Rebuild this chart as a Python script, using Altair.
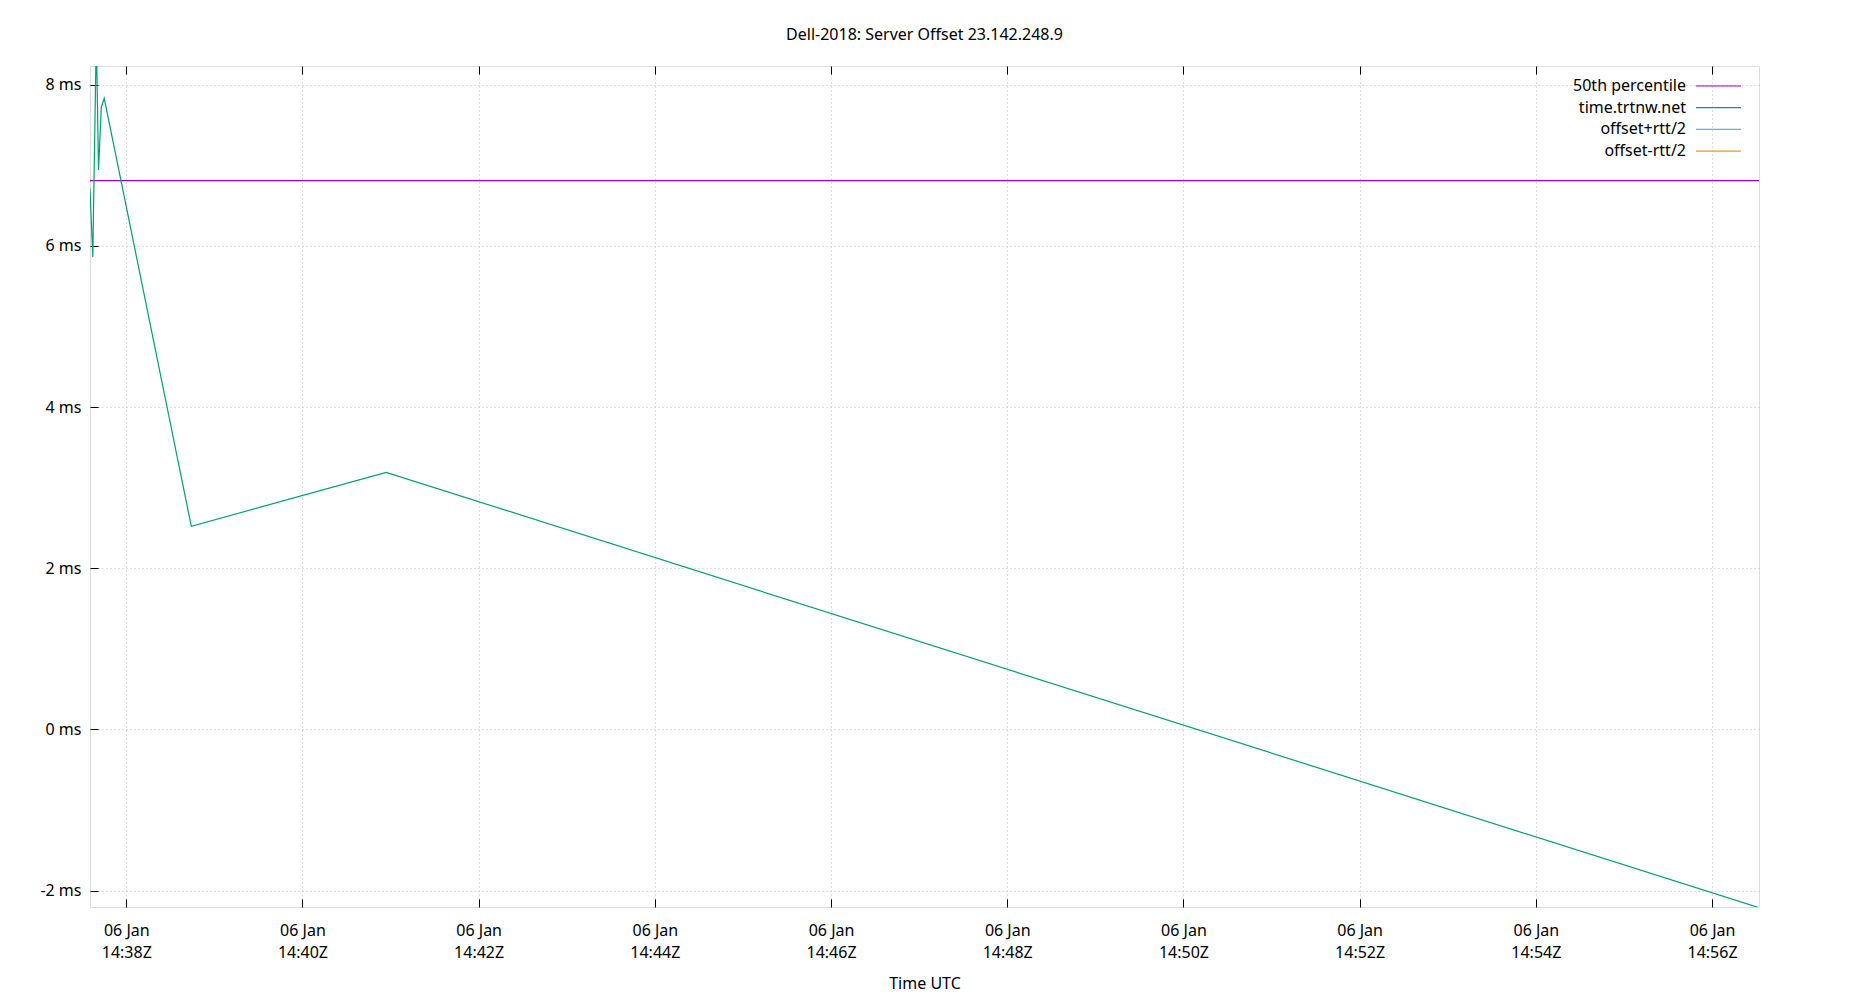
import altair as alt
import pandas as pd

# ---- data ----
times = [
    "2025-01-06T14:37:35.3Z",
    "2025-01-06T14:37:37.2Z",
    "2025-01-06T14:37:39.6Z",
    "2025-01-06T14:37:41.1Z",
    "2025-01-06T14:37:43.0Z",
    "2025-01-06T14:37:45.0Z",
    "2025-01-06T14:38:44.3Z",
    "2025-01-06T14:40:57.0Z",
    "2025-01-06T14:56:32.0Z",
]
offsets_ms = [6.71, 5.86, 8.61, 6.94, 7.72, 7.83, 2.52, 3.19, -2.21]
median_ms = 6.81

series_names = ["50th percentile", "time.trtnw.net", "offset+rtt/2", "offset-rtt/2"]
series_colors = ["#9400d3", "#009e73", "#56b4e9", "#e69f00"]

tick_minutes = [38, 40, 42, 44, 46, 48, 50, 52, 54, 56]
y_ticks = [-2, 0, 2, 4, 6, 8]
y_domain = [-2.202, 8.231]

title_text = "Dell-2018: Server Offset 23.142.248.9"
x_title = "Time UTC"

FONT = "Noto Sans"
W, H = 1669, 841

df = pd.DataFrame({"time": times, "offset": offsets_ms})
one_row = pd.DataFrame({"k": [0]})

tick_values = [
    alt.DateTime(year=2025, month=1, date=6, hours=14, minutes=m, utc=True)
    for m in tick_minutes
]

x_scale = alt.Scale(type="utc", nice=False)
y_scale = alt.Scale(domain=y_domain, nice=False, zero=False)

y_axis = alt.Axis(
    values=y_ticks,
    labelExpr="datum.value + ' ms'",
    grid=True,
    gridDash=[1, 3],
    gridColor="#bdbdbd",
    domain=False,
    ticks=True,
    tickSize=8,
    tickColor="black",
    offset=-8,
    labelPadding=9,
    labelFontSize=16,
    labelFont=FONT,
    labelColor="black",
    title=None,
)

x_axis_bottom = alt.Axis(
    values=tick_values,
    labelExpr="[utcFormat(datum.value, '%d %b'), utcFormat(datum.value, '%H:%MZ')]",
    grid=True,
    gridDash=[1, 3],
    gridColor="#bdbdbd",
    domain=False,
    ticks=True,
    tickSize=8,
    tickColor="black",
    offset=-8,
    labelPadding=15,
    labelFontSize=16,
    labelFont=FONT,
    labelColor="black",
    labelLineHeight=22.5,
    labelAngle=0,
    title=x_title,
    titleFont=FONT,
    titleFontSize=16,
    titleFontWeight="normal",
    titleColor="black",
    titlePadding=15,
)

x_axis_top = alt.Axis(
    values=tick_values,
    orient="top",
    labels=False,
    grid=False,
    domain=False,
    ticks=True,
    tickSize=8,
    tickColor="black",
    offset=-8,
    title=None,
)

line = alt.Chart(df).mark_line(color=series_colors[1], strokeWidth=1.2, clip=True).encode(
    x=alt.X("time:T", scale=x_scale, axis=x_axis_bottom),
    y=alt.Y("offset:Q", scale=y_scale, axis=y_axis),
)

top_ticks = alt.Chart(df).mark_line(opacity=0, clip=True).encode(
    x=alt.X("time:T", scale=x_scale, axis=x_axis_top),
    y=alt.Y("offset:Q", scale=y_scale, axis=y_axis),
)

median = alt.Chart(one_row).mark_rule(color=series_colors[0], strokeWidth=1.2).encode(
    y=alt.datum(median_ms)
)

# ---- gnuplot-style key (label left, line sample right) ----
legend_layers = []
key_text_x = W - 73
key_line_x1 = W - 63
key_line_x2 = W - 18
key_y0 = 20
key_dy = 21.7
for i, (name, col) in enumerate(zip(series_names, series_colors)):
    yy = key_y0 + i * key_dy
    legend_layers.append(
        alt.Chart(one_row).mark_text(
            align="right", baseline="middle", fontSize=16, font=FONT,
            color="black", fontWeight="normal"
        ).encode(x=alt.value(key_text_x), y=alt.value(yy), text=alt.value(name))
    )
    legend_layers.append(
        alt.Chart(one_row).mark_rule(color=col, strokeWidth=1.2).encode(
            x=alt.value(key_line_x1), x2=alt.value(key_line_x2), y=alt.value(yy)
        )
    )

chart = (
    alt.layer(median, line, top_ticks, *legend_layers)
    .resolve_axis(x="independent")
    .properties(
        width=W,
        height=H,
        autosize=alt.AutoSizeParams(type="none"),
        padding={"left": 82, "top": 58, "right": 60, "bottom": 92},
        title=alt.TitleParams(
            title_text,
            font=FONT,
            fontSize=16,
            fontWeight="normal",
            color="black",
            anchor="middle",
            baseline="alphabetic",
            frame="group",
            offset=10,
        ),
    )
    .configure_view(stroke="black", strokeWidth=1)
    .configure(background="white")
)

chart.save("out.html", embed_options={"renderer": "svg", "actions": False})
